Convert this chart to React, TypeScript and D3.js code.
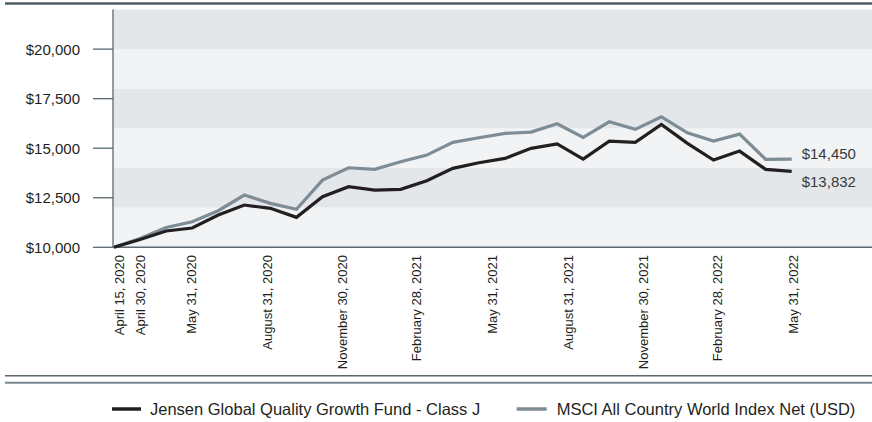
import React from "react";
import * as d3 from "d3";

// ---- data ----
const dates: string[] = [
  "2020-04-15", "2020-04-30", "2020-05-31", "2020-06-30", "2020-07-31", "2020-08-31",
  "2020-09-30", "2020-10-31", "2020-11-30", "2020-12-31", "2021-01-31", "2021-02-28",
  "2021-03-31", "2021-04-30", "2021-05-31", "2021-06-30", "2021-07-31", "2021-08-31",
  "2021-09-30", "2021-10-31", "2021-11-30", "2021-12-31", "2022-01-31", "2022-02-28",
  "2022-03-31", "2022-04-30", "2022-05-31",
];
const fundValues: number[] = [
  10000, 10390, 10822, 10973, 11628, 12133, 11966, 11510, 12551, 13055, 12889, 12924,
  13358, 13983, 14265, 14487, 14992, 15220, 14452, 15360, 15294, 16201, 15244, 14402,
  14855, 13933, 13832,
];
const indexValues: number[] = [
  10000, 10440, 10998, 11290, 11845, 12637, 12218, 11916, 13393, 14013, 13933, 14316,
  14654, 15294, 15526, 15748, 15813, 16230, 15546, 16333, 15950, 16585, 15778, 15360,
  15712, 14437, 14450,
];
const yTicks: number[] = [10000, 12500, 15000, 17500, 20000];
const bandEdges: number[] = [10000, 12000, 14000, 16000, 18000, 20000, 22000];
const tickDates: string[] = [
  "2020-04-15", "2020-04-30", "2020-05-31", "2020-08-31", "2020-11-30", "2021-02-28",
  "2021-05-31", "2021-08-31", "2021-11-30", "2022-02-28", "2022-05-31",
];
const seriesNames: string[] = [
  "Jensen Global Quality Growth Fund - Class J",
  "MSCI All Country World Index Net (USD)",
];
const endLabels: string[] = ["$13,832", "$14,450"];

const parse = d3.timeParse("%Y-%m-%d");
const fmtDate = d3.timeFormat("%B %-d, %Y");
const fmtMoney = (v: number) => "$" + d3.format(",")(v);

const W = 872;
const H = 422;
const FONT = "'Liberation Sans', Arial, sans-serif";
const BLACK = "#231f20";
const GRAY = "#7d8c95";
const AXIS = "#5b6870";
const BAND_DARK = "#e4e7ea";
const BAND_LIGHT = "#f1f3f5";

export default function App() {
  const plotLeft = 113;
  const plotTop = 9.5;
  const plotBottom = 247.3;

  const y = d3.scaleLinear().domain([10000, 22000]).range([plotBottom, plotTop]);
  const x = d3.scalePoint<string>().domain(dates).range([114, 791.7]);
  const labelTime = d3
    .scaleTime()
    .domain([parse("2020-05-31") as Date, parse("2022-05-31") as Date])
    .range([191.8, 793.3]);
  const firstRegular = parse("2020-05-31") as Date;

  const line = d3
    .line<number>()
    .x((_, i) => x(dates[i]) as number)
    .y((v) => y(v));

  const labelX = (ds: string) => {
    const d = parse(ds) as Date;
    if (d < firstRegular) return Math.max(x(ds) as number, plotLeft + 6);
    return labelTime(d);
  };

  const lastI = dates.length - 1;
  const endX = (x(dates[lastI]) as number) + 10;

  return (
    <svg
      width={W}
      height={H}
      style={{ position: "absolute", left: 0, top: 0, display: "block" }}
      fontFamily={FONT}
    >
      <rect x={0} y={0} width={W} height={H} fill="#ffffff" />
      {/* top rule */}
      <line x1={5} x2={W} y1={3.5} y2={3.5} stroke="#4f5c64" strokeWidth={2.6} />

      {/* bands */}
      {bandEdges.slice(0, -1).map((b, i) => (
        <rect
          key={b}
          x={plotLeft}
          y={y(bandEdges[i + 1])}
          width={W - plotLeft}
          height={y(b) - y(bandEdges[i + 1])}
          fill={i % 2 === 0 ? BAND_LIGHT : BAND_DARK}
        />
      ))}

      {/* y axis */}
      <line x1={plotLeft} x2={plotLeft} y1={plotTop} y2={plotBottom} stroke={AXIS} strokeWidth={1.3} />
      {yTicks.map((t) => (
        <g key={t}>
          <line x1={93} x2={plotLeft} y1={y(t)} y2={y(t)} stroke={AXIS} strokeWidth={1.3} />
          <text x={80} y={y(t)} dy="0.36em" textAnchor="end" fontSize={15} fill="#231f20">
            {fmtMoney(t)}
          </text>
        </g>
      ))}

      {/* x axis */}
      <line x1={plotLeft} x2={W} y1={plotBottom} y2={plotBottom} stroke={AXIS} strokeWidth={1.5} />
      {tickDates.map((ds) => {
        const lx = labelX(ds);
        return (
          <text
            key={ds}
            transform={`translate(${lx},255) rotate(-90)`}
            dy="0.35em"
            textAnchor="end"
            fontSize={13}
            fill="#231f20"
          >
            {fmtDate(parse(ds) as Date)}
          </text>
        );
      })}

      {/* lines */}
      <path d={line(indexValues) || ""} fill="none" stroke={GRAY} strokeWidth={3.2} />
      <path d={line(fundValues) || ""} fill="none" stroke={BLACK} strokeWidth={3.2} />

      {/* end labels */}
      <text x={endX} y={y(indexValues[lastI]) - 6} dy="0.36em" fontSize={15} fill="#3a3a3a">
        {endLabels[1]}
      </text>
      <text x={endX} y={y(fundValues[lastI]) + 10.5} dy="0.36em" fontSize={15} fill="#3a3a3a">
        {endLabels[0]}
      </text>

      {/* bottom rules */}
      <line x1={5} x2={W} y1={375.7} y2={375.7} stroke="#5b6870" strokeWidth={1.4} />
      <line x1={5} x2={W} y1={382.7} y2={382.7} stroke="#7a8891" strokeWidth={2} />

      {/* legend */}
      <line x1={112} x2={141} y1={409} y2={409} stroke={BLACK} strokeWidth={3.5} />
      <text x={150} y={409} dy="0.35em" fontSize={16.5} fill="#231f20">
        {seriesNames[0]}
      </text>
      <line x1={516.7} x2={546.7} y1={409} y2={409} stroke={GRAY} strokeWidth={3.5} />
      <text x={556.7} y={409} dy="0.35em" fontSize={16.5} fill="#231f20">
        {seriesNames[1]}
      </text>
    </svg>
  );
}
